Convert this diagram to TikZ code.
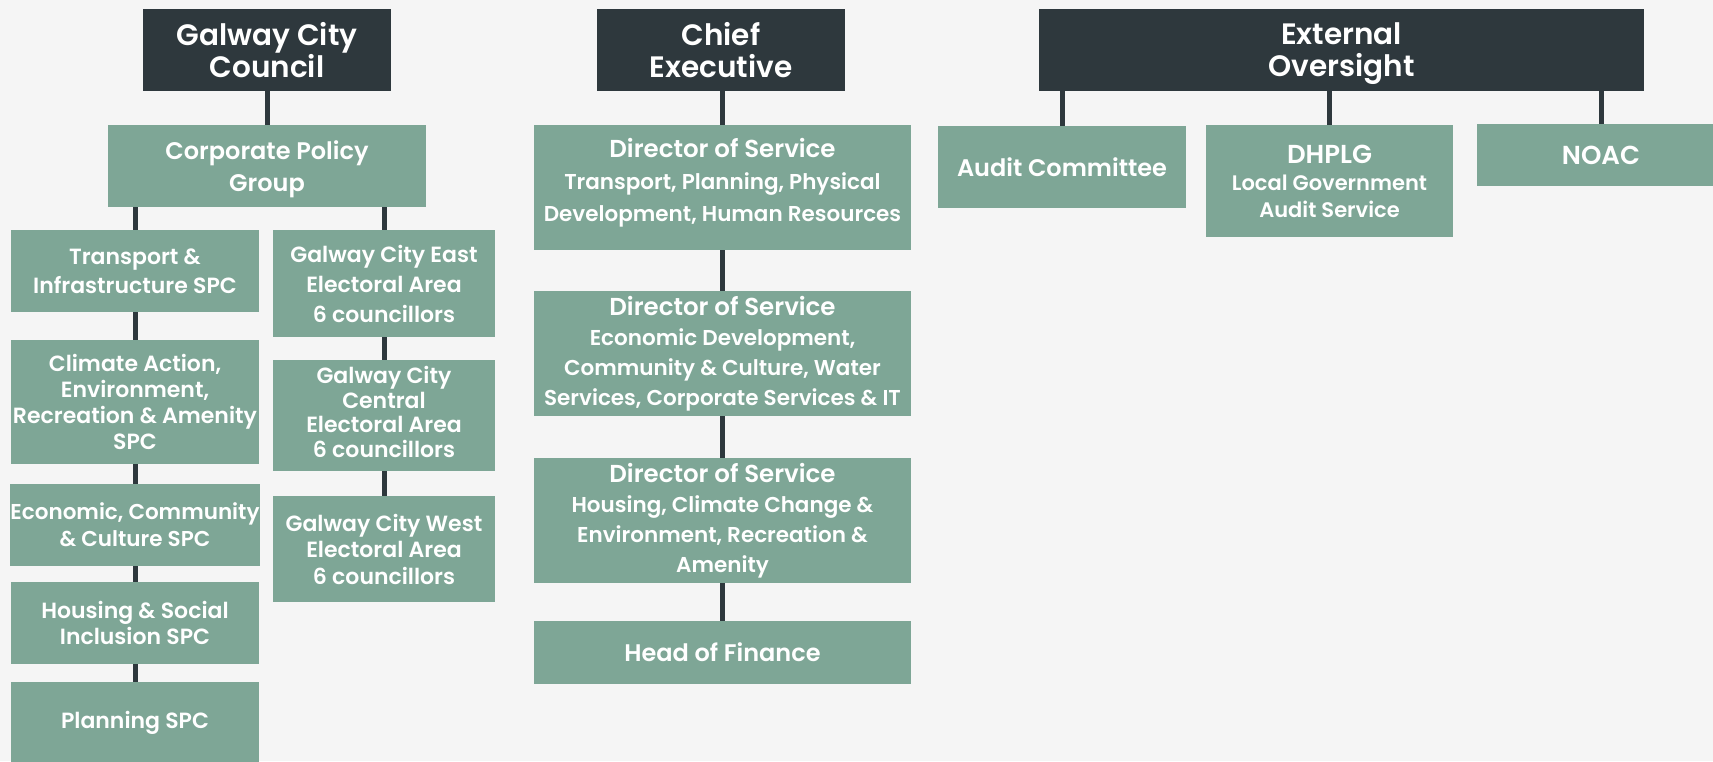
\documentclass[tikz,border=0pt]{standalone}
\usepackage{fontspec}
\setmainfont{Poppins}[BoldFont={* SemiBold}]
\definecolor{headdark}{HTML}{2E383D}
\definecolor{boxgreen}{HTML}{7EA696}
\definecolor{paper}{HTML}{F5F5F5}
\tikzset{
  box/.style={rectangle, fill=boxgreen, text=white, align=center, inner sep=0pt,
    font=\bfseries\fontsize{22}{29}\selectfont},
  headbox/.style={box, fill=headdark, font=\bfseries\fontsize{29.5}{32}\selectfont},
  dirbox/.style={box, minimum width=377, font=\bfseries\fontsize{21.5}{30}\selectfont},
  link/.style={draw=headdark, line width=5pt}
}
\newcommand{\dirtitle}[1]{{\fontsize{24.5}{30}\selectfont #1}}
% a line whose descenders do not count for centring
\newcommand{\nodepth}[1]{\raisebox{0pt}[\height][0pt]{#1}}
\begin{document}
\begin{tikzpicture}[x=1pt, y=-1pt]
  \fill[paper] (0,0) rectangle (1713,761);
  \useasboundingbox (0,0) rectangle (1713,761);
  \clip (0,0) rectangle (1713,761);

  % Council side
  \node[headbox, minimum width=248, minimum height=82] (gcc) at (267,50) {Galway City\\Council};
  \node[box, minimum width=318, minimum height=82, font=\bfseries\fontsize{24}{32}\selectfont] (cpg) at (267,166) {Corporate Policy\\\nodepth{Group}};
  \node[box, minimum width=248, minimum height=82] (tis) at (135,271) {Transport \&\\Infrastructure SPC};
  \node[box, minimum width=248, minimum height=124, font=\bfseries\fontsize{22}{26}\selectfont] (cae) at (135,402) {Climate Action,\\Environment,\\Recreation \& Amenity\\SPC};
  \node[box, minimum width=248, minimum height=82, font=\bfseries\fontsize{21.5}{27}\selectfont] (ecc) at (135,525) {Economic, Community\\\& Culture SPC};
  \node[box, minimum width=248, minimum height=82, font=\bfseries\fontsize{22}{26.5}\selectfont] (hsi) at (135,623) {Housing \& Social\\Inclusion SPC};
  \node[box, minimum width=248, minimum height=82] (pla) at (135,723) {Planning SPC};
  \node[box, minimum width=222, minimum height=107, font=\bfseries\fontsize{22}{30}\selectfont] (east) at (384,283.5) {Galway City East\\Electoral Area\\6 councillors};
  \node[box, minimum width=222, minimum height=111, font=\bfseries\fontsize{22}{24.5}\selectfont] (central) at (384,415.5) {Galway City\\Central\\Electoral Area\\6 councillors\\[-17pt]};
  \node[box, minimum width=222, minimum height=106, font=\bfseries\fontsize{22}{26.5}\selectfont] (west) at (384,549) {Galway City West\\Electoral Area\\6 councillors};

  \draw[link] (gcc.south) -- (cpg.north);
  \draw[link] (tis.north) -- (tis.north |- cpg.south);
  \draw[link] (east.north) -- (east.north |- cpg.south);
  \draw[link] (tis.south) -- (cae.north);
  \draw[link] (cae.south) -- (ecc.north);
  \draw[link] (ecc.south) -- (hsi.north);
  \draw[link] (hsi.south) -- (pla.north);
  \draw[link] (east.south) -- (central.north);
  \draw[link] (central.south) -- (west.north);

  % Executive side
  \node[headbox, minimum width=248, minimum height=82] (ce) at (721,50) {Chief\\Executive};
  \node[dirbox, minimum height=125, font=\bfseries\fontsize{21.5}{32}\selectfont] (d1) at (722.5,187.5) {\dirtitle{Director of Service}\\Transport, Planning, Physical\\Development, Human Resources\\[-16pt]};
  \node[dirbox, minimum height=125] (d2) at (722.5,353.5) {\dirtitle{Director of Service}\\Economic Development,\\Community \& Culture, Water\\Services, Corporate Services \& IT};
  \node[dirbox, minimum height=125] (d3) at (722.5,520.5) {\dirtitle{Director of Service}\\Housing, Climate Change \&\\Environment, Recreation \&\\Amenity};
  \node[dirbox, minimum height=63, font=\bfseries\fontsize{24}{30}\selectfont] (hof) at (722.5,652.5) {Head of Finance};

  \draw[link] (d1.north) -- (d1.north |- ce.south);
  \draw[link] (d1.south) -- (d2.north);
  \draw[link] (d2.south) -- (d3.north);
  \draw[link] (d3.south) -- (hof.north);

  % Oversight side
  \node[headbox, minimum width=605, minimum height=82] (ext) at (1341.5,50) {External\\\nodepth{Oversight}};
  \node[box, minimum width=248, minimum height=82, font=\bfseries\fontsize{24}{30}\selectfont] (aud) at (1062,167) {Audit Committee};
  \node[box, minimum width=247, minimum height=112, font=\bfseries\fontsize{21}{27}\selectfont] (dhp) at (1329.5,181) {{\fontsize{26}{27}\selectfont DHPLG}\\Local Government\\Audit Service};
  \node[box, minimum width=248, minimum height=62, font=\bfseries\fontsize{26}{30}\selectfont] (noac) at (1601,155) {NOAC};

  \draw[link] (aud.north) -- (aud.north |- ext.south);
  \draw[link] (dhp.north) -- (dhp.north |- ext.south);
  \draw[link] (noac.north) -- (noac.north |- ext.south);
\end{tikzpicture}
\end{document}
